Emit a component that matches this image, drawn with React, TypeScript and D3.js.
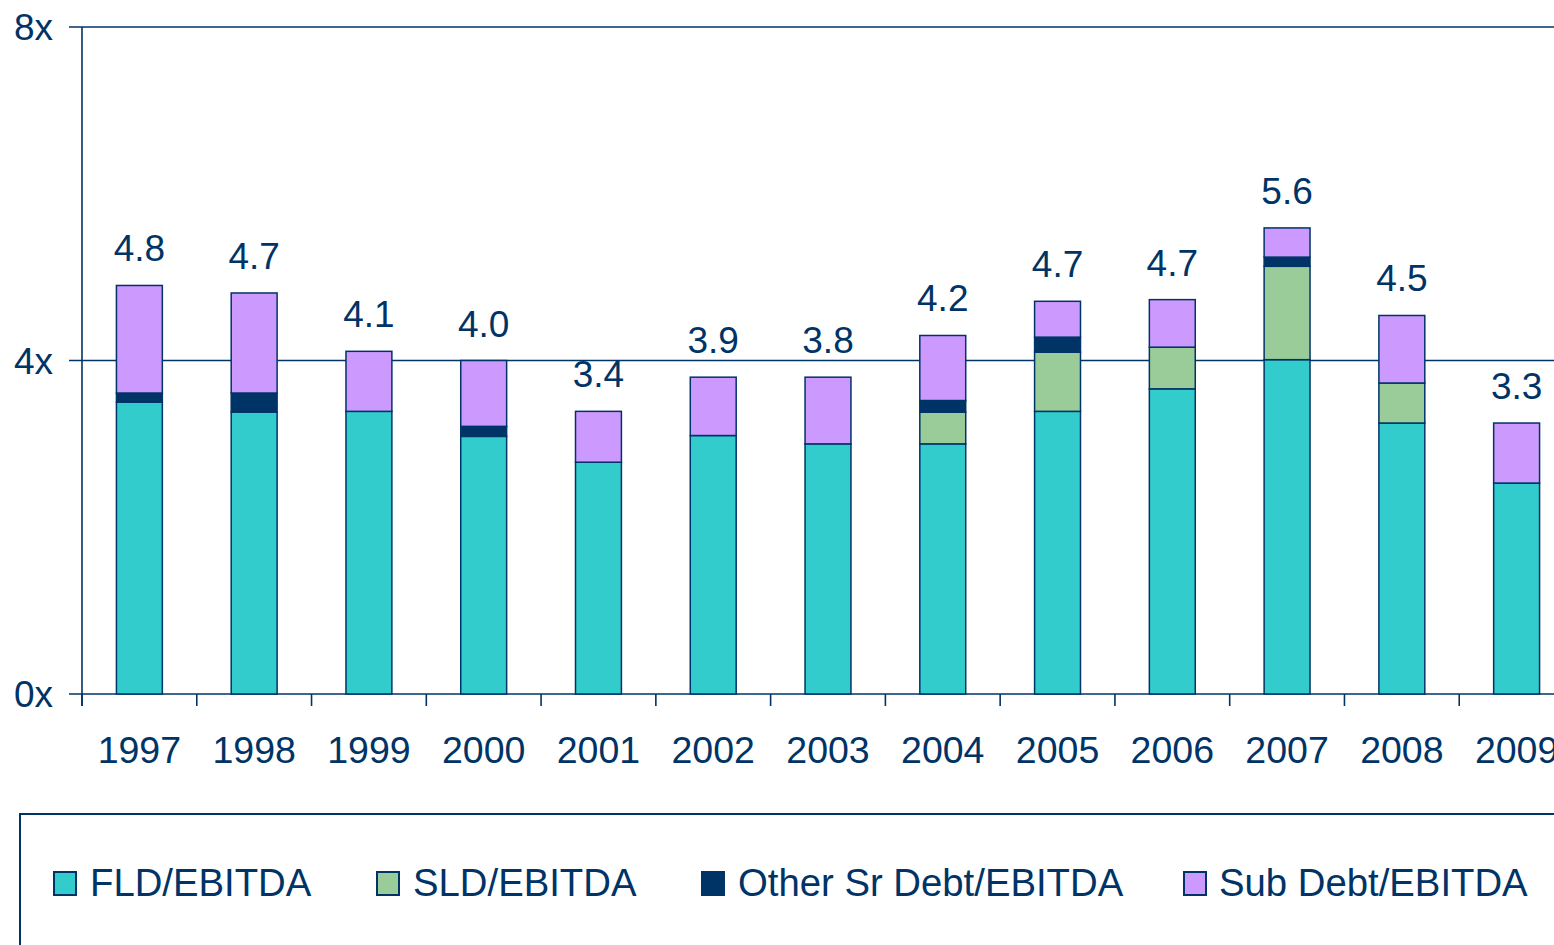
import React from 'react';
import * as d3 from 'd3';

// years on the x axis
const years = ['1997', '1998', '1999', '2000', '2001', '2002', '2003', '2004', '2005', '2006', '2007', '2008', '2009'];
// segment values (multiples of EBITDA)
const fld = [3.50, 3.38, 3.39, 3.09, 2.78, 3.10, 3.00, 3.00, 3.39, 3.66, 4.01, 3.25, 2.53];
const sld = [0, 0, 0, 0, 0, 0, 0, 0.38, 0.71, 0.50, 1.12, 0.48, 0];
const otherSr = [0.11, 0.23, 0, 0.12, 0, 0, 0, 0.14, 0.18, 0, 0.11, 0, 0];
const subDebt = [1.29, 1.20, 0.72, 0.79, 0.61, 0.70, 0.80, 0.78, 0.43, 0.57, 0.35, 0.81, 0.72];
// total labels as printed above each bar
const totalLabels = ['4.8', '4.7', '4.1', '4.0', '3.4', '3.9', '3.8', '4.2', '4.7', '4.7', '5.6', '4.5', '3.3'];
const yTicks = [0, 4, 8];

const seriesNames = ['FLD/EBITDA', 'SLD/EBITDA', 'Other Sr Debt/EBITDA', 'Sub Debt/EBITDA'];
const colors = ['#33CCCC', '#99CC99', '#003366', '#CC99FF'];
const navy = '#003366';
const font = '"Liberation Sans", Arial, sans-serif';

const App = () => {
  const width = 1554;
  const height = 945;
  const margin = { left: 82, top: 27, bottom: 694 };
  // plot area runs a bit past the right edge, as in the original
  const plotRight = 1574;

  const x = d3.scaleBand()
    .domain(years)
    .range([margin.left, plotRight])
    .paddingInner(0.6)
    .paddingOuter(0.3);
  const step = x.step();

  const y = d3.scaleLinear()
    .domain([0, 8])
    .range([margin.bottom, margin.top]);

  const rows = years.map((yr, i) => ({
    year: yr,
    s0: fld[i],
    s1: sld[i],
    s2: otherSr[i],
    s3: subDebt[i],
  }));
  const stacked = d3.stack<any>().keys(['s0', 's1', 's2', 's3'])(rows);

  // legend positions
  const legendSwatchX = [54, 377, 702, 1184];
  const legendTextX = [90, 413, 738, 1219];

  return (
    <svg
      width={width}
      height={height}
      style={{ position: 'absolute', left: 0, top: 0, background: '#fff' }}
      fontFamily={font}
    >
      {/* gridlines + y ticks */}
      {yTicks.map((t) => (
        <g key={t}>
          <line x1={69} x2={width} y1={y(t)} y2={y(t)} stroke={navy} strokeWidth={1.6} />
          <text x={53} y={y(t) + 13} textAnchor="end" fontSize={37} fill={navy}>{t}x</text>
        </g>
      ))}
      {/* y axis line */}
      <line x1={margin.left} x2={margin.left} y1={y(8)} y2={y(0) + 12} stroke={navy} strokeWidth={1.6} />

      {/* x ticks */}
      {years.map((yr, i) => {
        const xt = margin.left + i * step;
        return (
          <line key={`t-${yr}`} x1={xt} x2={xt} y1={y(0)} y2={y(0) + 12} stroke={navy} strokeWidth={1.6} />
        );
      })}

      {/* bars */}
      {stacked.map((layer, li) => (
        <g key={li}>
          {layer.map((d, i) => {
            if (d[1] - d[0] <= 0) return null;
            return (
              <rect
                key={i}
                x={x(years[i])}
                y={y(d[1])}
                width={x.bandwidth()}
                height={y(d[0]) - y(d[1])}
                fill={colors[li]}
                stroke={navy}
                strokeWidth={1.5}
              />
            );
          })}
        </g>
      ))}

      {/* total labels */}
      {years.map((yr, i) => {
        const total = fld[i] + sld[i] + otherSr[i] + subDebt[i];
        return (
          <text
            key={`l-${yr}`}
            x={(x(yr) as number) + x.bandwidth() / 2}
            y={y(total) - 24}
            textAnchor="middle"
            fontSize={37}
            fill={navy}
          >
            {totalLabels[i]}
          </text>
        );
      })}

      {/* year labels */}
      {years.map((yr) => (
        <text
          key={`y-${yr}`}
          x={(x(yr) as number) + x.bandwidth() / 2}
          y={763}
          textAnchor="middle"
          fontSize={37.5}
          fill={navy}
        >
          {yr}
        </text>
      ))}

      {/* legend */}
      <rect x={20} y={814} width={1600} height={200} fill="none" stroke={navy} strokeWidth={2} />
      {seriesNames.map((name, i) => (
        <g key={name}>
          <rect x={legendSwatchX[i]} y={872} width={22} height={23} fill={colors[i]} stroke={navy} strokeWidth={2} />
          <text x={legendTextX[i]} y={896} fontSize={38.3} fill={navy}>{name}</text>
        </g>
      ))}
    </svg>
  );
};

export default App;
